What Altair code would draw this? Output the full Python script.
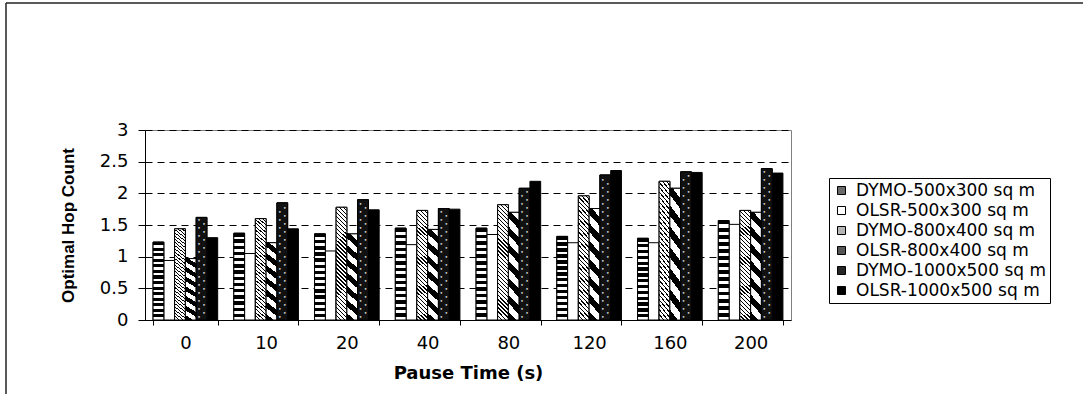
import altair as alt
import pandas as pd

pause = ["0", "10", "20", "40", "80", "120", "160", "200"]
series = [
    "DYMO-500x300 sq m",
    "OLSR-500x300 sq m",
    "DYMO-800x400 sq m",
    "OLSR-800x400 sq m",
    "DYMO-1000x500 sq m",
    "OLSR-1000x500 sq m",
]
dymo_500 = [1.23, 1.37, 1.36, 1.45, 1.45, 1.32, 1.29, 1.57]
olsr_500 = [0.94, 1.05, 1.09, 1.19, 1.35, 1.22, 1.22, 1.51]
dymo_800 = [1.44, 1.60, 1.78, 1.73, 1.82, 1.96, 2.19, 1.73]
olsr_800 = [0.97, 1.22, 1.36, 1.43, 1.70, 1.76, 2.08, 1.70]
dymo_1000 = [1.62, 1.85, 1.90, 1.76, 2.08, 2.29, 2.34, 2.39]
olsr_1000 = [1.30, 1.44, 1.74, 1.75, 2.19, 2.36, 2.33, 2.32]

values = [dymo_500, olsr_500, dymo_800, olsr_800, dymo_1000, olsr_1000]
rows = []
for s, vals in zip(series, values):
    for p, v in zip(pause, vals):
        rows.append({"pause": p, "series": s, "value": v})
df = pd.DataFrame(rows)

legend_fill = ["#6a6a6a", "#ffffff", "#b4b4b4", "#555555", "#262626", "#000000"]

x_enc = alt.X(
    "pause:N", sort=pause,
    scale=alt.Scale(paddingInner=0.2, paddingOuter=0.1),
    axis=alt.Axis(title="Pause Time (s)", labelAngle=0, tickBand="extent",
                  tickSize=5, labelPadding=18, labelBaseline="middle",
                  titleY=53, titleBaseline="middle"),
)
xo_enc = alt.XOffset("series:N", sort=series,
                     scale=alt.Scale(domain=series, paddingInner=0, paddingOuter=0))
y_axis = alt.Axis(title="Optimal Hop Count", values=[0, 0.5, 1, 1.5, 2, 2.5, 3],
                  format="~g", tickSize=7, labelPadding=10,
                  titleX=-77, titleY=95, titleAngle=-90, titleAlign="center",
                  titleBaseline="middle", titleFont="Liberation Sans", titleFontSize=17,
                  grid=True, gridColor="black", gridDash=[7, 5], gridWidth=1)
y_scale = alt.Scale(domain=[0, 3], nice=False)


def stripes(n, frac_black, x1, y1, x2, y2, c_dark="black", c_light="white"):
    stops = []
    for i in range(n):
        a = i / n
        b = (i + frac_black) / n
        c = (i + 1) / n
        stops += [alt.GradientStop(offset=a, color=c_dark),
                  alt.GradientStop(offset=b, color=c_dark),
                  alt.GradientStop(offset=b, color=c_light),
                  alt.GradientStop(offset=c, color=c_light)]
    return alt.LinearGradient(gradient="linear", stops=stops, x1=x1, y1=y1, x2=x2, y2=y2)


def diag(n, frac, r0):
    s = (1 + r0) / (1 + r0 * r0)
    return stripes(n, frac, 0, 1, s, 1 - s * r0)


base = alt.Chart(df).mark_bar(stroke="black", strokeWidth=1).encode(
    x=x_enc, xOffset=xo_enc,
    y=alt.Y("value:Q", scale=y_scale, axis=y_axis),
    color=alt.Color("series:N", sort=series,
                    scale=alt.Scale(domain=series, range=legend_fill),
                    legend=alt.Legend(title=None, orient="none", legendX=684, legendY=48,
                                      symbolType="square", symbolSize=64,
                                      symbolStrokeColor="black", symbolStrokeWidth=1,
                                      labelFont="DejaVu Sans", labelFontSize=17,
                                      labelColor="black", labelOffset=6, labelLimit=0,
                                      rowPadding=2, padding=4,
                                      strokeColor="black", fillColor="white")),
)


def overlay(name, fill):
    return alt.Chart(df).transform_filter(alt.datum.series == name).mark_bar(
        fill=fill, stroke="black", strokeWidth=1
    ).encode(x=x_enc, xOffset=xo_enc, y=alt.Y("value:Q", scale=y_scale, axis=y_axis))


ov1 = overlay(series[0], stripes(14, 0.55, 0, 0, 0, 1))
ov3 = overlay(series[2], diag(31, 0.32, 10.6))
ov4 = overlay(series[3], diag(7, 0.5, 9.2))
ov5 = overlay(series[4], "#111111")


def dots(start, dx):
    return alt.Chart(df).transform_filter(alt.datum.series == series[4]).transform_calculate(
        s=f"sequence({start}, datum.value - 0.03, 0.127)"
    ).transform_flatten(["s"]).mark_text(
        text="\u2022", fontSize=6, color="#d8d8d8", dx=dx, baseline="middle", font="DejaVu Sans"
    ).encode(x=x_enc, xOffset=xo_enc, y=alt.Y("s:Q", scale=y_scale, axis=y_axis))


d1 = dots(0.05, -2.5)
d2 = dots(0.113, 2.5)

one = pd.DataFrame({"k": [0]})
frame_v = alt.Chart(one).mark_rule(color="#222222", strokeWidth=1.5).encode(
    x=alt.value(-139), y=alt.value(-127), y2=alt.value(264))
frame_h = alt.Chart(one).mark_rule(color="#222222", strokeWidth=1.5).encode(
    x=alt.value(-139), x2=alt.value(938), y=alt.value(-127))

chart = alt.layer(base, ov1, ov3, ov4, ov5, d1, d2, frame_v, frame_h).properties(
    width=646, height=190,
    padding={"left": 5, "top": 2, "right": 0, "bottom": 0},
).configure_view(stroke="#808080", strokeWidth=1).configure_axis(
    labelFont="DejaVu Sans", labelFontSize=18, labelColor="black",
    titleFont="DejaVu Sans", titleFontSize=18, titleFontWeight="bold", titleColor="black",
    domainColor="black", tickColor="black", domainWidth=1, tickWidth=1,
).configure_axisX(grid=False)

chart.save("out.html", embed_options={"renderer": "svg", "actions": False})
